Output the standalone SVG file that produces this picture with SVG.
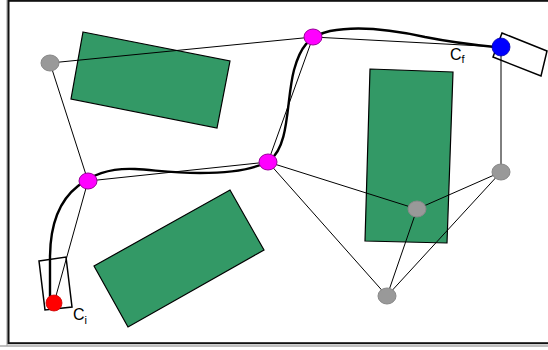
<svg xmlns="http://www.w3.org/2000/svg" width="548" height="350" viewBox="0 0 548 350">
  <style>
    .obstacle { fill: #339966; stroke: #000; stroke-width: 1.2; }
    .car { fill: #fff; stroke: #000; stroke-width: 1.5; }
    .edge { stroke: #000; stroke-width: 1; fill: none; }
    .path { stroke: #000; stroke-width: 2.4; fill: none; stroke-linecap: round; }
    .gray { fill: #999; stroke: #888; stroke-width: 1; }
    .via { fill: #ff00ff; stroke: #990099; stroke-width: 1; }
    .label { font-family: "Liberation Sans", Arial, sans-serif; font-size: 16px; fill: #000; }
    .sub { font-size: 11px; }
  </style>
  <rect x="0" y="0" width="548" height="350" fill="#fff"/>

  <!-- frame -->
  <line x1="7" y1="0" x2="7" y2="346" stroke="#999" stroke-width="1"/>
  <line x1="0" y1="346" x2="548" y2="346" stroke="#aaa" stroke-width="1.5"/>
  <rect x="8.5" y="0.8" width="560" height="342.4" fill="none" stroke="#111" stroke-width="2"/>

  <!-- obstacles -->
  <g id="obstacles">
    <polygon class="obstacle" points="83,32 230,61 217,128 71,99"/>
    <polygon class="obstacle" points="370,69 453,72 447,243 365,241"/>
    <polygon class="obstacle" points="94,266 230,190 264,250 128,327"/>
  </g>

  <!-- start / goal car footprints -->
  <g id="car-start">
    <polygon class="car" points="39,261 66,257 72,307 45,310"/>
  </g>
  <g id="car-goal">
    <polygon class="car" points="502,33 547,51 541,76 493,57"/>
  </g>

  <!-- roadmap edges and planned path -->
  <g id="connectors">
    <line class="edge" x1="50" y1="63" x2="313" y2="37"/>
    <line class="edge" x1="50" y1="63" x2="88" y2="181"/>
    <line class="edge" x1="88" y1="181" x2="54" y2="303"/>
    <line class="edge" x1="88" y1="181" x2="268" y2="162"/>
    <line class="edge" x1="268" y1="162" x2="313" y2="37"/>
    <line class="edge" x1="313" y1="37" x2="501" y2="47"/>
    <line class="edge" x1="501" y1="47" x2="501" y2="172"/>
    <line class="edge" x1="268" y1="162" x2="417" y2="209"/>
    <line class="edge" x1="268" y1="162" x2="387" y2="296"/>
    <line class="edge" x1="417" y1="209" x2="501" y2="172"/>
    <line class="edge" x1="417" y1="209" x2="387" y2="296"/>
    <line class="edge" x1="501" y1="172" x2="387" y2="296"/>
    <path class="path" d="M50,300 L50,258 C50,225 60,200 78,186 C95,172 115,168 135,169 C155,170 170,173 200,173 C230,173 255,170 270,160 C290,145 286,100 294,70 C300,48 308,36 330,31 C355,26 385,28 425,37 C455,43 475,45 495,47"/>
  </g>

  <!-- nodes -->
  <g id="node-a"><ellipse class="gray" cx="50" cy="63" rx="9" ry="8"/></g>
  <g id="node-b"><ellipse class="via" cx="313" cy="37" rx="9" ry="8"/></g>
  <g id="node-c"><ellipse class="via" cx="88" cy="181" rx="9" ry="8"/></g>
  <g id="node-d"><ellipse class="via" cx="268" cy="162" rx="9" ry="8"/></g>
  <g id="node-e"><ellipse class="gray" cx="501" cy="172" rx="9" ry="8"/></g>
  <g id="node-f"><ellipse class="gray" cx="417" cy="209" rx="9" ry="8"/></g>
  <g id="node-g"><ellipse class="gray" cx="387" cy="296" rx="9" ry="8"/></g>
  <g id="node-start"><circle cx="54" cy="303" r="8" fill="#ff0000" stroke="#cc0000" stroke-width="0.8"/></g>
  <g id="node-goal"><circle cx="501" cy="47" r="9" fill="#0000ff" stroke="#0000aa" stroke-width="0.8"/></g>

  <!-- labels -->
  <text class="label" x="450" y="60">C<tspan class="sub" dy="3">f</tspan></text>
  <text class="label" x="73" y="320">C<tspan class="sub" dy="4">i</tspan></text>
</svg>
